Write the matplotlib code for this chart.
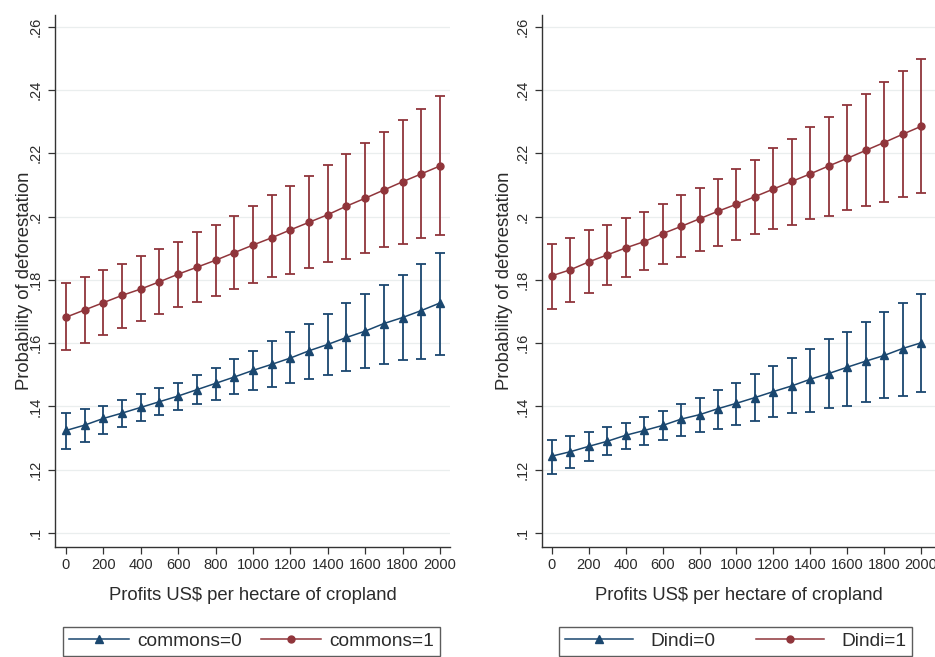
import matplotlib
matplotlib.use("Agg")
import matplotlib.pyplot as plt
import numpy as np

plt.rcParams["font.family"] = ["Liberation Sans", "DejaVu Sans"]

profits = np.arange(0, 2001, 100)

# Left panel: commons
commons0_mean = [.1324, .1341, .1362, .1379, .1397, .1415, .1433, .1453, .1473, .1493, .1514,
                 .1533, .1553, .1576, .1596, .1618, .1638, .1662, .1681, .1703, .1727]
commons0_lo = [.1264, .1288, .1312, .1336, .1354, .1372, .1390, .1407, .1421, .1438, .1451,
               .1462, .1474, .1486, .1498, .1511, .1521, .1534, .1546, .1551, .1564]
commons0_hi = [.1378, .1392, .1402, .1420, .1438, .1457, .1474, .1498, .1522, .1551, .1576,
               .1606, .1636, .1661, .1691, .1727, .1755, .1785, .1815, .1849, .1885]
commons1_mean = [.1682, .1705, .1728, .1751, .1771, .1794, .1818, .1840, .1862, .1886, .1910,
                 .1933, .1958, .1982, .2006, .2033, .2058, .2084, .2110, .2135, .2160]
commons1_lo = [.1579, .1602, .1626, .1649, .1671, .1692, .1713, .1731, .1750, .1772, .1790,
               .1808, .1819, .1838, .1856, .1867, .1885, .1903, .1913, .1932, .1943]
commons1_hi = [.1791, .1809, .1831, .1849, .1874, .1898, .1920, .1950, .1974, .2003, .2033,
               .2069, .2097, .2127, .2163, .2198, .2234, .2268, .2305, .2341, .2380]

# Right panel: Dindi
dindi0_mean = [.1243, .1257, .1274, .1290, .1309, .1324, .1340, .1360, .1374, .1393, .1410,
               .1428, .1447, .1465, .1486, .1504, .1524, .1543, .1561, .1583, .1601]
dindi0_lo = [.1187, .1204, .1228, .1247, .1264, .1278, .1294, .1307, .1319, .1330, .1341,
             .1354, .1366, .1378, .1384, .1396, .1402, .1414, .1426, .1432, .1445]
dindi0_hi = [.1295, .1306, .1319, .1336, .1349, .1367, .1385, .1407, .1427, .1451, .1474,
             .1504, .1529, .1553, .1583, .1613, .1636, .1666, .1697, .1727, .1756]
dindi1_mean = [.1813, .1832, .1857, .1879, .1901, .1921, .1946, .1969, .1993, .2017, .2039,
               .2063, .2087, .2111, .2135, .2160, .2184, .2209, .2234, .2260, .2285]
dindi1_lo = [.1708, .1731, .1760, .1784, .1808, .1832, .1849, .1873, .1891, .1908, .1927,
             .1945, .1961, .1974, .1992, .2003, .2021, .2033, .2045, .2061, .2074]
dindi1_hi = [.1914, .1932, .1956, .1973, .1997, .2016, .2039, .2068, .2091, .2120, .2150,
             .2180, .2216, .2246, .2282, .2316, .2352, .2386, .2424, .2459, .2498]

yticks = [.1, .12, .14, .16, .18, .2, .22, .24, .26]
ytick_labels = [".1", ".12", ".14", ".16", ".18", ".2", ".22", ".24", ".26"]
xticks = np.arange(0, 2001, 200)

NAVY = "#1a476f"
MAROON = "#90353b"
TEXT = "#2b2b2b"
W, H = 935, 657


def draw_panel(ax, series, xlim, label_x):
    handles = []
    for mean, lo, hi, color, marker, name in series:
        mean, lo, hi = map(np.asarray, (mean, lo, hi))
        ax.errorbar(profits, mean, yerr=[mean - lo, hi - mean], fmt="none",
                    ecolor=color, elinewidth=1.3, capsize=3.4, capthick=1.3, zorder=2)
        h, = ax.plot(profits, mean, color=color, lw=1.1, marker=marker,
                     markersize=5 if marker == "o" else 5.5, zorder=3, label=name)
        handles.append(h)
    ax.set_xlim(*xlim)
    ax.set_ylim(0.09558, 0.2637)
    ax.set_yticks(yticks)
    ax.set_yticklabels(ytick_labels, rotation=90, va="center")
    ax.set_xticks(xticks)
    ax.tick_params(axis="both", direction="out", length=5, width=0.9,
                   color="#333333", labelsize=10.5, labelcolor=TEXT)
    ax.tick_params(axis="y", pad=4)
    ax.tick_params(axis="x", pad=3)
    ax.grid(axis="y", color="#eaeeee", lw=0.9, zorder=0)
    ax.set_axisbelow(True)
    for side in ("top", "right"):
        ax.spines[side].set_visible(False)
    for side in ("left", "bottom"):
        ax.spines[side].set_color("#333333")
        ax.spines[side].set_linewidth(1.0)
    ax.set_ylabel("Probability of deforestation", fontsize=13.3, color=TEXT)
    ax.yaxis.set_label_coords(label_x, 0.5)
    ax.set_xlabel("Profits US$ per hectare of cropland", fontsize=13.3, color=TEXT,
                  labelpad=11)
    return handles


fig = plt.figure(figsize=(W / 100, H / 100), dpi=100)
ax_l = fig.add_axes([55 / W, 1 - 547 / H, 395 / W, 532 / H])
ax_r = fig.add_axes([542 / W, 1 - 547 / H, 393 / W, 532 / H])

h_l = draw_panel(ax_l, [
    (commons0_mean, commons0_lo, commons0_hi, NAVY, "^", "commons=0"),
    (commons1_mean, commons1_lo, commons1_hi, MAROON, "o", "commons=1"),
], (-58.8, 2053.5), -0.056)

h_r = draw_panel(ax_r, [
    (dindi0_mean, dindi0_lo, dindi0_hi, NAVY, "^", "Dindi=0"),
    (dindi1_mean, dindi1_lo, dindi1_hi, MAROON, "o", "Dindi=1"),
], (-54.2, 2075.9), -0.074)

# legend layouts: (handles, left edge px, handle length, text pad, column gap)
legend_specs = [
    (h_l, 63, 3.15, 0.45, 0.95),
    (h_r, 559, 3.55, 0.9, 2.15),
]
for handles, x0, hlen, tpad, cgap in legend_specs:
    leg = fig.legend(handles=handles, loc="upper left",
                     bbox_to_anchor=(x0 / W, 1 - 627 / H), ncol=2,
                     fontsize=13.8, frameon=True, fancybox=False,
                     handlelength=hlen, handletextpad=tpad, columnspacing=cgap,
                     borderpad=0.3, borderaxespad=0, numpoints=1)
    leg.get_frame().set_edgecolor("#333333")
    leg.get_frame().set_linewidth(1.0)
    for t in leg.get_texts():
        t.set_color(TEXT)

fig.savefig("out.png", dpi=100)
